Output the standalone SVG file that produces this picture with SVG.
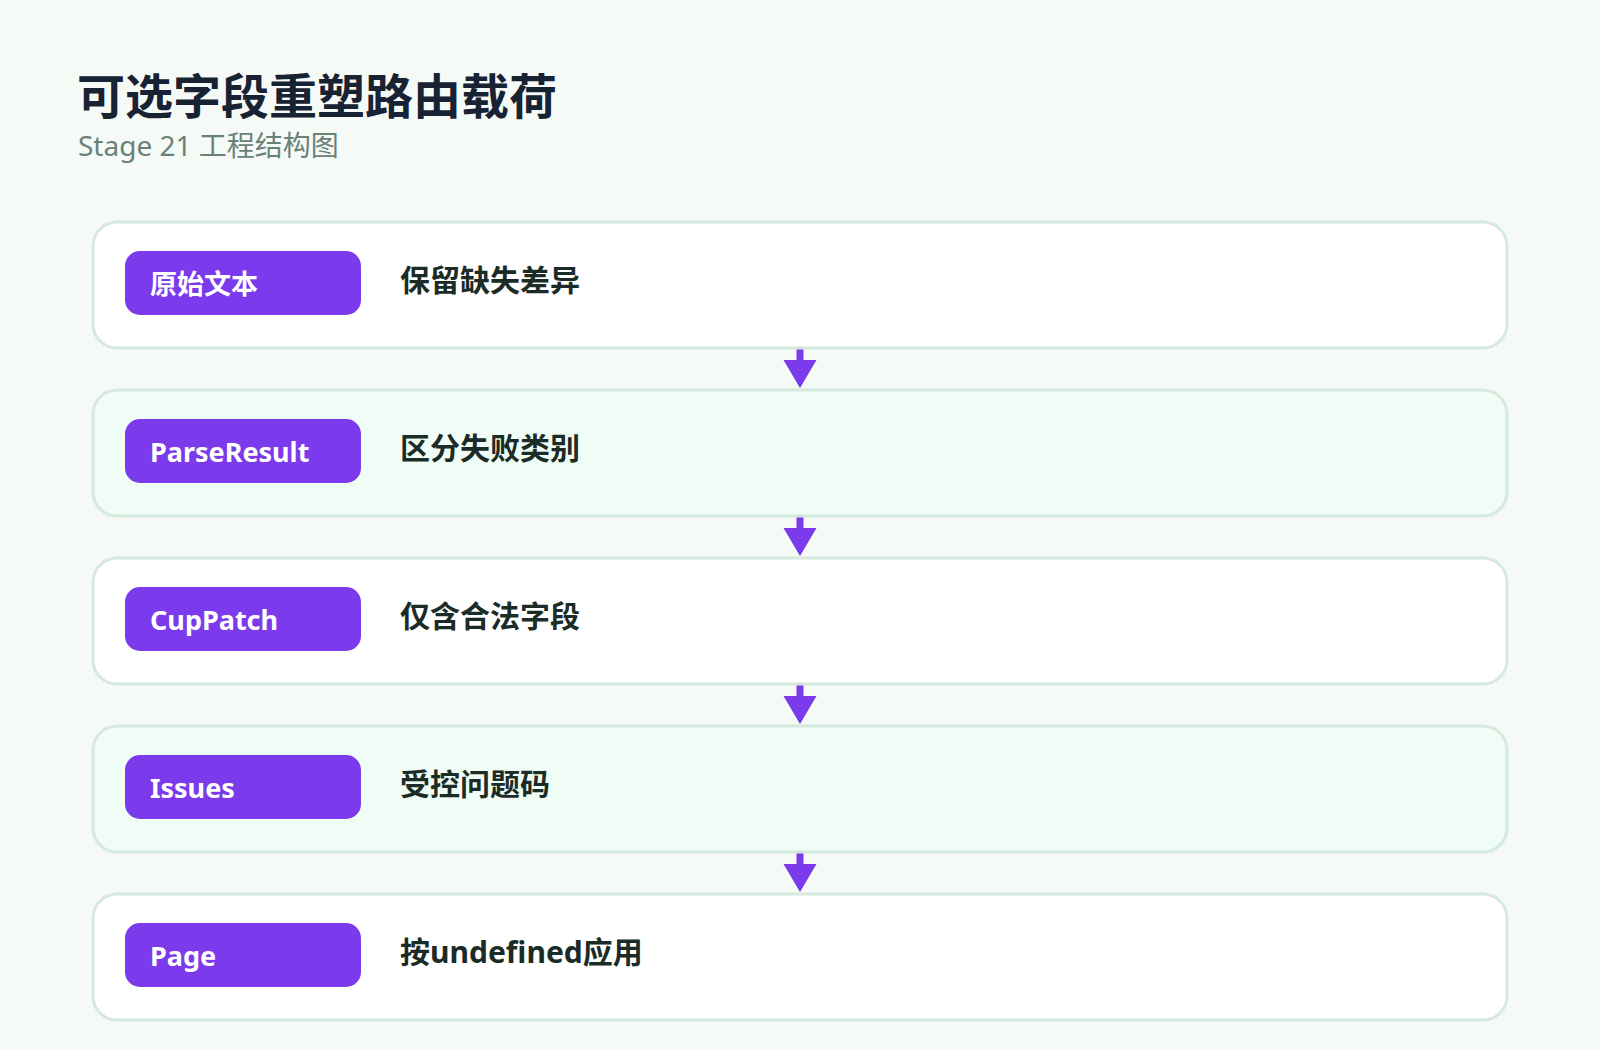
<svg xmlns="http://www.w3.org/2000/svg" width="1600" height="1050" viewBox="0 0 1600 1050">
  <defs>
    <style>
      .title { font-family: "Noto Sans", "Noto Sans CJK SC", sans-serif; font-size: 48px; font-weight: 700; fill: #172233; }
      .subtitle { font-family: "Noto Sans", "Noto Sans CJK SC", sans-serif; font-size: 28px; font-weight: 400; fill: #6a8177; }
      .card { stroke: #d5eadf; stroke-width: 3; }
      .card-a { fill: #ffffff; }
      .card-b { fill: #f0fdf6; }
      .pill { fill: #7c3aed; }
      .pill-text { font-family: "Noto Sans", "Noto Sans CJK SC", sans-serif; font-size: 27px; font-weight: 700; fill: #ffffff; }
      .desc { font-family: "Noto Sans", "Noto Sans CJK SC", sans-serif; font-size: 30px; font-weight: 700; fill: #1b2b25; }
      .conn { stroke: #7c3aed; stroke-width: 7; fill: none; }
    </style>
    <marker id="arrow" viewBox="0 -17 28 34" markerWidth="28" markerHeight="34" refX="1" refY="0" orient="auto" markerUnits="userSpaceOnUse">
      <path d="M0,-16.5 L28,0 L0,16.5 Z" fill="#7c3aed"/>
    </marker>
  </defs>

  <rect x="0" y="0" width="1600" height="1050" fill="#f5faf7"/>

  <g id="header">
    <text class="title" x="77" y="114">可选字段重塑路由载荷</text>
    <text class="subtitle" x="78" y="156">Stage 21 工程结构图</text>
  </g>

  <g id="connectors">
    <line class="conn" x1="800" y1="349" x2="800" y2="361" marker-end="url(#arrow)"/>
    <line class="conn" x1="800" y1="517" x2="800" y2="529" marker-end="url(#arrow)"/>
    <line class="conn" x1="800" y1="685" x2="800" y2="697" marker-end="url(#arrow)"/>
    <line class="conn" x1="800" y1="853" x2="800" y2="865" marker-end="url(#arrow)"/>
  </g>

  <g id="node-1">
    <rect class="card card-a" x="93" y="222" width="1414" height="126" rx="24"/>
    <rect class="pill" x="125" y="251" width="236" height="64" rx="15"/>
    <text class="pill-text" x="150" y="294">原始文本</text>
    <text class="desc" x="400" y="291">保留缺失差异</text>
  </g>

  <g id="node-2">
    <rect class="card card-b" x="93" y="390" width="1414" height="126" rx="24"/>
    <rect class="pill" x="125" y="419" width="236" height="64" rx="15"/>
    <text class="pill-text" x="150" y="462">ParseResult</text>
    <text class="desc" x="400" y="459">区分失败类别</text>
  </g>

  <g id="node-3">
    <rect class="card card-a" x="93" y="558" width="1414" height="126" rx="24"/>
    <rect class="pill" x="125" y="587" width="236" height="64" rx="15"/>
    <text class="pill-text" x="150" y="630">CupPatch</text>
    <text class="desc" x="400" y="627">仅含合法字段</text>
  </g>

  <g id="node-4">
    <rect class="card card-b" x="93" y="726" width="1414" height="126" rx="24"/>
    <rect class="pill" x="125" y="755" width="236" height="64" rx="15"/>
    <text class="pill-text" x="150" y="798">Issues</text>
    <text class="desc" x="400" y="795">受控问题码</text>
  </g>

  <g id="node-5">
    <rect class="card card-a" x="93" y="894" width="1414" height="126" rx="24"/>
    <rect class="pill" x="125" y="923" width="236" height="64" rx="15"/>
    <text class="pill-text" x="150" y="966">Page</text>
    <text class="desc" x="400" y="963">按undefined应用</text>
  </g>
</svg>
